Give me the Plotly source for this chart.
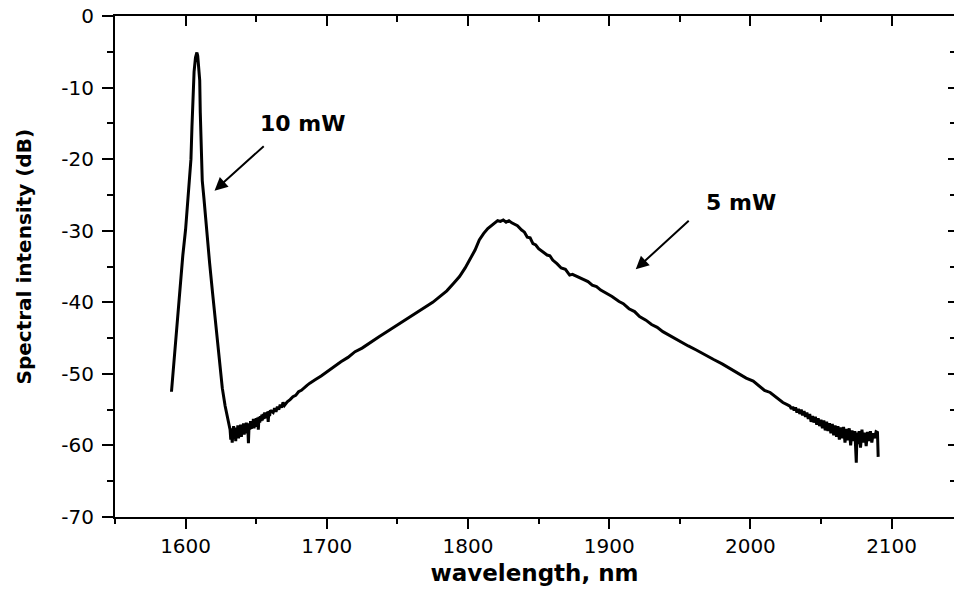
import plotly.graph_objects as go

# Emission spectrum, split into segments: wavelength (nm) and spectral intensity (dB)
peak_wl = [
    1590, 1592, 1594, 1596, 1598, 1600, 1601, 1602, 1603, 1603.8, 1604.5, 1605.2,
    1606, 1607, 1608, 1608.6, 1609.2, 1610, 1610.4, 1611, 1611.8, 1613, 1614, 1615,
    1617, 1619, 1621, 1622.5, 1624, 1626, 1628, 1630, 1631,
]
peak_db = [
    -52.5, -47.5, -42.8, -38.0, -33.5, -29.8, -27.5, -24.8, -22.5, -20.0, -15.5, -11.0,
    -7.8, -5.8, -5.1, -5.6, -6.8, -9.0, -13.5, -20.0, -23.0, -25.5, -28.0, -30.0,
    -34.5, -38.5, -42.5, -46.0, -49.0, -52.0, -54.5, -56.3, -57.4,
]

dip_wl = [
    1631.5, 1632, 1632.5, 1633, 1633.5, 1634, 1634.5, 1635, 1635.5, 1636, 1636.5,
    1637, 1637.5, 1638, 1638.5, 1639, 1639.5, 1640, 1640.5, 1641, 1641.5, 1642,
    1642.5, 1643, 1643.5, 1644, 1644.5, 1645, 1645.5, 1646, 1646.5, 1647, 1647.5,
    1648, 1648.5, 1649, 1649.5, 1650, 1650.5, 1651, 1651.5, 1652, 1652.5, 1653,
    1653.5, 1654, 1654.5, 1655, 1655.5, 1656, 1656.5, 1657, 1657.5, 1658, 1658.5,
    1659, 1659.5, 1660,
]
dip_db = [
    -57.8, -59.2, -57.6, -59.6, -58.0, -57.3, -59.1, -57.8, -59.4, -57.5, -58.6,
    -57.2, -59.0, -57.7, -58.4, -57.1, -58.8, -57.4, -58.2, -56.9, -58.5, -57.0,
    -57.9, -56.8, -58.3, -57.2, -59.7, -56.9, -57.8, -56.6, -57.7, -56.7, -57.4,
    -56.3, -57.6, -56.5, -57.1, -56.2, -57.4, -56.1, -57.8, -56.0, -56.8, -55.9,
    -56.6, -55.7, -56.5, -55.6, -56.3, -55.4, -56.2, -55.5, -56.0, -55.3, -56.7,
    -55.2, -55.9, -55.1,
]

band_wl = [
    1662, 1663, 1664, 1665, 1666, 1667, 1668, 1669, 1670, 1672, 1674, 1676, 1678,
    1680, 1682, 1684, 1686, 1688, 1690, 1692, 1696, 1700, 1705, 1710, 1715, 1720,
    1725, 1730, 1737, 1745, 1752, 1759, 1765, 1770, 1775, 1780, 1785, 1790, 1794,
    1798, 1802, 1805, 1808, 1811, 1814, 1817, 1819, 1821, 1823, 1825, 1827, 1829,
    1831, 1833, 1835, 1838, 1840, 1842, 1844, 1846, 1848, 1850, 1853, 1856, 1858,
    1860, 1863, 1866, 1869, 1872, 1874, 1876, 1879, 1882, 1885, 1888, 1891, 1894,
    1898, 1902, 1907, 1910, 1914, 1918, 1921.5, 1926, 1930, 1934, 1938, 1944, 1950,
    1956, 1962, 1968, 1974, 1980, 1985, 1991, 1997, 2002, 2006, 2010, 2014, 2017,
    2020, 2023, 2026,
]
band_db = [
    -55.4, -54.8, -55.3, -54.6, -55.0, -54.3, -54.7, -54.0, -54.4, -53.9, -53.6,
    -53.2, -53.0, -52.5, -52.3, -51.9, -51.6, -51.3, -51.0, -50.8, -50.3, -49.7,
    -49.0, -48.3, -47.7, -46.9, -46.4, -45.7, -44.8, -43.8, -42.9, -42.0, -41.3,
    -40.7, -40.0, -39.2, -38.4, -37.3, -36.4, -35.2, -33.8, -32.7, -31.3, -30.4,
    -29.7, -29.2, -28.9, -28.6, -28.7, -28.5, -28.8, -28.6, -28.9, -29.1, -29.3,
    -29.9, -30.2, -30.9, -31.0, -31.8, -32.0, -32.5, -33.0, -33.4, -33.5, -34.1,
    -34.6, -35.2, -35.4, -36.2, -36.1, -36.3, -36.5, -36.8, -37.1, -37.6, -37.8,
    -38.3, -38.7, -39.2, -39.9, -40.2, -40.9, -41.3, -42.0, -42.5, -43.1, -43.5,
    -44.1, -44.8, -45.4, -46.1, -46.7, -47.4, -48.0, -48.6, -49.2, -49.9, -50.6,
    -51.0, -51.6, -52.3, -52.6, -53.1, -53.6, -54.0, -54.3,
]

tail_wl = [
    2028, 2029, 2030, 2031, 2032, 2033, 2034, 2035, 2036, 2037, 2038, 2039, 2040,
    2041, 2042, 2043, 2044, 2045, 2046, 2047, 2048, 2049, 2050, 2051, 2052, 2053,
    2054, 2055, 2056, 2057, 2058, 2059, 2060, 2061, 2062, 2063, 2064, 2065, 2066,
    2067, 2068, 2069, 2070, 2071, 2072, 2073, 2074, 2075, 2075.5, 2076, 2077, 2078,
    2079, 2080, 2081, 2082, 2083, 2084, 2085, 2086, 2087, 2088, 2089, 2090, 2090.5,
]
tail_db = [
    -54.5, -54.9, -54.6, -55.1, -54.7, -55.4, -54.9, -55.6, -55.0, -55.8, -55.2,
    -56.0, -55.4, -56.3, -55.6, -56.7, -55.9, -56.8, -56.0, -57.1, -56.2, -57.3,
    -56.4, -57.6, -56.5, -57.9, -56.7, -58.0, -56.9, -58.3, -57.0, -58.6, -57.2,
    -58.8, -57.3, -59.2, -57.5, -59.0, -57.4, -59.6, -57.7, -59.3, -57.6, -60.0,
    -57.9, -59.4, -58.0, -62.4, -58.2, -59.8, -58.0, -60.3, -57.8, -59.6, -58.2,
    -60.1, -58.1, -59.4, -58.0, -59.6, -58.3, -59.0, -58.1, -58.2, -61.6,
]

wavelength = peak_wl + dip_wl + band_wl + tail_wl
intensity = peak_db + dip_db + band_db + tail_db

# Axis ticks (hyphen-minus labels)
y_tick_vals = [0, -10, -20, -30, -40, -50, -60, -70]
y_tick_text = ["0", "-10", "-20", "-30", "-40", "-50", "-60", "-70"]
x_tick_vals = [1600, 1700, 1800, 1900, 2000, 2100]
x_tick_text = ["1600", "1700", "1800", "1900", "2000", "2100"]

# Annotation labels with their text and arrow endpoints (nm, dB)
label_text = ["10 mW", "5 mW"]
label_pos_x = [1683, 1993]
label_pos_y = [-15.0, -26.0]
arrow_tail_x = [1656.4, 1957.4]
arrow_tail_y = [-18.0, -28.4]
arrow_head_x = [1620.5, 1918.8]
arrow_head_y = [-24.4, -35.4]

x_range = [1550, 2144.2]
y_range = [-70, 0]

FONT = "DejaVu Sans"

fig = go.Figure()
fig.add_trace(go.Scatter(
    x=wavelength, y=intensity, mode="lines",
    line=dict(color="black", width=3),
    showlegend=False, hoverinfo="skip",
))
# empty trace so the mirrored top/right axes are rendered
fig.add_trace(go.Scatter(x=[], y=[], xaxis="x2", yaxis="y2", showlegend=False,
                         hoverinfo="skip"))

axis_common = dict(
    linecolor="black", linewidth=2, tickcolor="black", tickwidth=2,
    showgrid=False, zeroline=False,
)

fig.update_layout(
    width=954, height=590,
    margin=dict(l=115, r=0, t=16, b=73),
    paper_bgcolor="white", plot_bgcolor="white",
    font=dict(family=FONT, color="black"),
    xaxis=dict(
        range=x_range, tickmode="array", tickvals=x_tick_vals, ticktext=x_tick_text,
        ticks="outside", ticklen=10, showline=True, mirror=False,
        minor=dict(dtick=50, tick0=1550, ticks="outside", ticklen=5, tickwidth=2,
                   tickcolor="black"),
        tickfont=dict(family=FONT, size=20, color="black"),
        title=dict(text="<b>wavelength, nm</b>", font=dict(family=FONT, size=23, color="black"),
                   standoff=8),
        **axis_common,
    ),
    yaxis=dict(
        range=y_range, tickmode="array", tickvals=y_tick_vals, ticktext=y_tick_text,
        ticks="outside", ticklen=11, showline=True, mirror=False,
        ticklabelstandoff=4,
        minor=dict(dtick=5, tick0=0, ticks="outside", ticklen=6, tickwidth=2,
                   tickcolor="black"),
        tickfont=dict(family=FONT, size=20, color="black"),
        **axis_common,
    ),
    xaxis2=dict(
        overlaying="x", side="top", anchor="y2", range=x_range,
        tick0=1600, dtick=100, ticks="inside", ticklen=10, showticklabels=False,
        showline=True,
        minor=dict(dtick=50, ticks="inside", ticklen=6, tickwidth=2, tickcolor="black"),
        **axis_common,
    ),
    yaxis2=dict(
        overlaying="y", side="right", anchor="x2", range=y_range,
        tick0=0, dtick=10, ticks="inside", ticklen=6, showticklabels=False,
        showline=False,
        minor=dict(dtick=5, ticks="inside", ticklen=4, tickwidth=2, tickcolor="black"),
        tickcolor="black", tickwidth=2, showgrid=False, zeroline=False,
    ),
)

# vertical axis title
fig.add_annotation(
    x=-0.1073, y=0.52, xref="paper", yref="paper", xanchor="center", yanchor="middle",
    text="<b>Spectral intensity (dB)</b>", textangle=-90, showarrow=False,
    font=dict(family=FONT, size=20, color="black"),
)

for i in range(len(label_text)):
    fig.add_annotation(
        x=arrow_head_x[i], y=arrow_head_y[i], ax=arrow_tail_x[i], ay=arrow_tail_y[i],
        xref="x", yref="y", axref="x", ayref="y",
        text="", showarrow=True, arrowhead=2, arrowsize=1.3, arrowwidth=2,
        arrowcolor="black",
    )
    fig.add_annotation(
        x=label_pos_x[i], y=label_pos_y[i], xref="x", yref="y",
        text="<b>" + label_text[i] + "</b>", showarrow=False,
        font=dict(family=FONT, size=22, color="black"),
    )

fig.write_html("out.html")
